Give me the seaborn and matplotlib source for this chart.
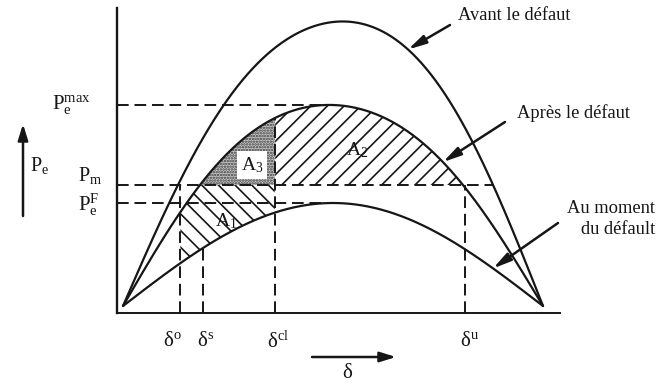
import numpy as np
import pandas as pd
import matplotlib
matplotlib.use("Agg")
import matplotlib.pyplot as plt
import seaborn as sns

# ---------------- data ----------------
# rotor angle delta in rad (0..pi), electric power in per-unit
curve_names = ["Avant le défaut", "Après le défaut", "Au moment du défaut"]
# shape of each power-angle curve: a*sin(d) + b*sin(2d) + c*sin(3d)
coef_sin1 = [2.937, 2.073, 1.03]
coef_sin2 = [-0.075, 0.021, 0.0]
coef_sin3 = [0.097, 0.063, 0.0]
P_m = 1.21                                  # mechanical power
delta_marks = [0.426, 0.598, 1.137, 2.558]  # delta_o, delta_s, delta_cl, delta_u
delta_labels = [r"$\mathrm{δ^o}$", r"$\mathrm{δ^s}$",
                r"$\mathrm{δ^{cl}}$", r"$\mathrm{δ^u}$"]
area_labels = [r"$\mathrm{A_1}$", r"$\mathrm{A_2}$", r"$\mathrm{A_3}$"]
power_labels = [r"$\mathrm{P_e^{max}}$", r"$\mathrm{P_m}$", r"$\mathrm{P_e^F}$"]

# ---------------- style ----------------
sns.set_theme(style="white")
plt.rcParams["font.family"] = ["Liberation Serif", "DejaVu Serif"]
plt.rcParams["mathtext.fontset"] = "custom"
plt.rcParams["mathtext.rm"] = "Liberation Serif"
plt.rcParams["mathtext.it"] = "Liberation Serif:italic"
plt.rcParams["mathtext.bf"] = "Liberation Serif:bold"
plt.rcParams["hatch.linewidth"] = 1.2
INK = "#161616"

W, H = 658, 388
fig = plt.figure(figsize=(W / 100, H / 100), dpi=100)
fig.patch.set_facecolor("white")
ax = fig.add_axes([117 / W, 75 / H, 443 / W, 305 / H])
XL = (-0.0449, 3.2687)
YL = (-0.07, 2.98)
ax.set_xlim(*XL)
ax.set_ylim(*YL)
ax.set_facecolor("white")

delta = np.linspace(0, np.pi, 901)
curves = []
for a, b, c in zip(coef_sin1, coef_sin2, coef_sin3):
    curves.append(a * np.sin(delta) + b * np.sin(2 * delta) + c * np.sin(3 * delta))
top, mid, bot = curves

df = pd.concat([pd.DataFrame({"delta": delta, "P": p, "curve": n})
                for n, p in zip(curve_names, curves)])

d_o, d_s, d_cl, d_u = delta_marks

# ---------------- areas ----------------
m1 = (delta >= d_o) & (delta <= d_cl)
ax.fill_between(delta, bot, np.minimum(P_m, mid), where=m1, facecolor="none",
                edgecolor=INK, hatch="\\\\", linewidth=0, zorder=1)
m3 = (delta <= d_cl) & (mid >= P_m)
ax.fill_between(delta, P_m, mid, where=m3, facecolor="#c8c8c8",
                edgecolor="#3a3a3a", hatch="......", linewidth=0, zorder=1)
m2 = (delta >= d_cl) & (delta <= d_u) & (mid >= P_m)
ax.fill_between(delta, P_m, mid, where=m2, facecolor="none",
                edgecolor=INK, hatch="//", linewidth=0, zorder=1)

# ---------------- curves ----------------
sns.lineplot(data=df, x="delta", y="P", hue="curve", palette=[INK] * 3,
             estimator=None, sort=False, legend=False, linewidth=1.6, ax=ax, zorder=3)

# ---------------- dashed guide lines ----------------
dash = (0, (6, 3))
Pe_max = mid.max()
Pe_F = bot.max()
right_cross = delta[np.where(top >= P_m)[0][-1]]
ax.hlines([Pe_max, P_m, Pe_F], XL[0],
          [delta[np.argmax(mid)], right_cross, delta[np.argmax(bot)]],
          colors=INK, linestyles=dash, linewidth=1.4, zorder=2)
v_top = [P_m, np.interp(d_s, delta, bot), np.interp(d_cl, delta, mid), P_m]
ax.vlines(delta_marks, YL[0], v_top, colors=INK, linestyles=dash,
          linewidth=1.4, zorder=2)

# ---------------- axes frame ----------------
for s in ["top", "right"]:
    ax.spines[s].set_visible(False)
ax.spines["left"].set_color(INK)
ax.spines["left"].set_linewidth(1.7)
ax.spines["bottom"].set_color(INK)
ax.spines["bottom"].set_linewidth(1.4)
ax.set_xticks([])
ax.set_yticks([])
ax.set_xlabel("")
ax.set_ylabel("")


def fp(x, y):
    return (x, H - y)


# power labels on the left
ax.annotate(power_labels[0], xy=fp(52, 104), xycoords="figure pixels",
            fontsize=15, ha="left", va="center", color=INK)
ax.annotate(power_labels[1], xy=fp(78, 176), xycoords="figure pixels",
            fontsize=14.5, ha="left", va="center", color=INK)
ax.annotate(power_labels[2], xy=fp(78, 205), xycoords="figure pixels",
            fontsize=15, ha="left", va="center", color=INK)
ax.annotate(r"$\mathrm{P_e}$", xy=fp(30, 166), xycoords="figure pixels",
            fontsize=14.5, ha="left", va="center", color=INK)
ax.annotate("", xy=fp(23, 124), xytext=fp(23, 216), xycoords="figure pixels",
            textcoords="figure pixels",
            arrowprops=dict(arrowstyle="-|>,head_width=0.25,head_length=0.8",
                            lw=1.8, color=INK, shrinkA=0, shrinkB=0))

# delta labels
for lab, xc in zip(delta_labels, [172, 206, 278, 469]):
    ax.annotate(lab, xy=fp(xc, 342), xycoords="figure pixels", fontsize=15,
                ha="center", va="center", color=INK)
ax.annotate("", xy=fp(396, 357), xytext=fp(312, 357), xycoords="figure pixels",
            textcoords="figure pixels",
            arrowprops=dict(arrowstyle="-|>,head_width=0.25,head_length=0.8",
                            lw=1.8, color=INK, shrinkA=0, shrinkB=0))
ax.annotate("δ", xy=fp(347, 373), xycoords="figure pixels", fontsize=15,
            ha="center", va="center", color=INK)

# area labels
ax.annotate(area_labels[0], xy=fp(226, 221), xycoords="figure pixels",
            fontsize=14, ha="center", va="center", color=INK, zorder=5)
ax.annotate(area_labels[1], xy=fp(357, 150), xycoords="figure pixels",
            fontsize=14, ha="center", va="center", color=INK, zorder=5)
ax.annotate(area_labels[2], xy=fp(252, 165), xycoords="figure pixels",
            fontsize=14, ha="center", va="center", color=INK, zorder=5,
            bbox=dict(boxstyle="square,pad=0.2", fc="white", ec="none"))

# curve names with arrows
arrow_kw = dict(arrowstyle="-|>,head_width=0.22,head_length=0.9",
                lw=1.8, color=INK, shrinkA=0, shrinkB=0)
d_head = [2.132, 2.393, 2.768]
tails = [(450, 25), (505, 122), (558, 223)]
for p, dh, tl in zip(curves, d_head, tails):
    ax.annotate("", xy=(dh, np.interp(dh, delta, p)), xycoords="data",
                xytext=fp(*tl), textcoords="figure pixels", arrowprops=arrow_kw,
                annotation_clip=False)
ax.annotate(curve_names[0], xy=fp(458, 16), xycoords="figure pixels",
            fontsize=13.3, ha="left", va="center", color=INK)
ax.annotate(curve_names[1], xy=fp(517, 113), xycoords="figure pixels",
            fontsize=13.3, ha="left", va="center", color=INK)
ax.annotate("Au moment\ndu défault", xy=fp(655, 219), xycoords="figure pixels",
            fontsize=13.3, ha="right", va="center", multialignment="right",
            linespacing=1.25, color=INK)

fig.savefig("out.png", dpi=100, facecolor="white")
